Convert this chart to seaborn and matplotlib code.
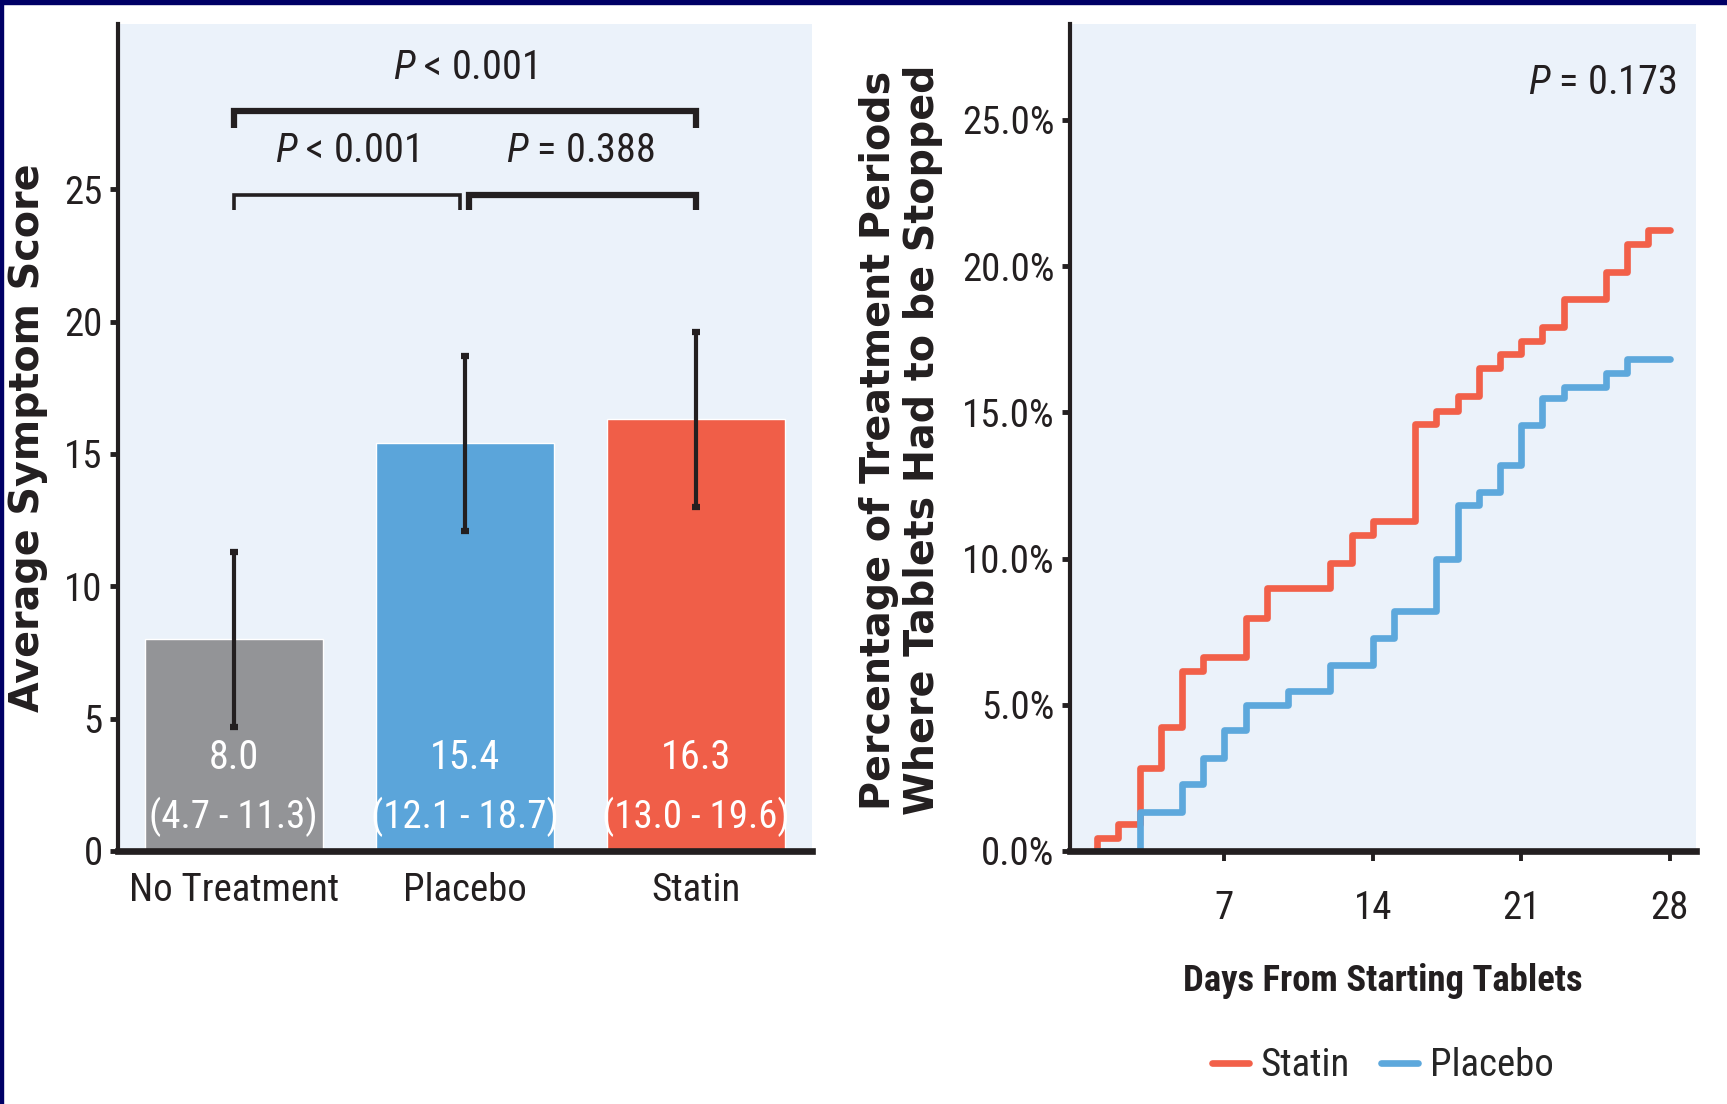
import numpy as np
import pandas as pd
import matplotlib
matplotlib.use("Agg")
import matplotlib.pyplot as plt
import seaborn as sns
from matplotlib import font_manager as fm
from matplotlib.patches import Rectangle
from matplotlib.ticker import FuncFormatter, FixedLocator

# ---------------- data ----------------
groups = ["No Treatment", "Placebo", "Statin"]
mean_scores = [8.0, 15.4, 16.3]
ci_low = [4.7, 12.1, 13.0]
ci_high = [11.3, 18.7, 19.6]
bar_value_labels = ["8.0", "15.4", "16.3"]
bar_ci_labels = ["(4.7 - 11.3)", "(12.1 - 18.7)", "(13.0 - 19.6)"]
left_yticks = [0, 5, 10, 15, 20, 25]

days = list(range(1, 29))
statin_pct = [0.46, 0.93, 2.82, 4.23, 6.14, 6.62, 6.62, 7.96, 8.98, 8.98, 8.98, 9.86, 10.8, 11.29,
              11.29, 14.6, 15.06, 15.55, 16.5, 16.98, 17.45, 17.91, 18.87, 18.87, 19.8, 20.74, 21.23, 21.23]
placebo_pct = [0, 0, 1.33, 1.33, 2.30, 3.18, 4.12, 5.0, 5.0, 5.46, 5.46, 6.35, 6.35, 7.28,
               8.19, 8.19, 10.0, 11.82, 12.28, 13.19, 14.55, 15.48, 15.88, 15.88, 16.35, 16.82, 16.82, 16.82]
right_xticks = [7, 14, 21, 28]
right_yticks = [0, 5, 10, 15, 20, 25]

# ---------------- style ----------------
sns.set_theme(style="white")


def _w(f):
    w = f.weight
    if isinstance(w, str):
        w = fm.weight_dict.get(w, 400)
    return w


entries = fm.fontManager.ttflist
NARROW = "DejaVu Sans"
for cand in ["Liberation Sans Narrow", "Roboto Condensed", "Noto Sans Condensed",
             "DejaVu Sans Condensed", "Open Sans Condensed"]:
    fam = [f for f in entries if f.name == cand]
    if any(350 <= _w(f) <= 450 and f.style == "normal" for f in fam):
        NARROW = cand
        break
plt.rcParams["font.family"] = [NARROW, "DejaVu Sans"]
plt.rcParams["mathtext.fontset"] = "custom"
plt.rcParams["mathtext.it"] = f"{NARROW}:italic"
plt.rcParams["mathtext.rm"] = NARROW

DARK = "#231F20"
BG = "#EBF2FA"
bar_colors = ["#939497", "#5BA5DA", "#F05E48"]
line_colors = {"Statin": "#F26049", "Placebo": "#5DA8DC"}
TICK_FS = 28

fig = plt.figure(figsize=(17.27, 11.04), dpi=100)
fig.patch.set_facecolor("white")
ax1 = fig.add_axes([0.0683, 0.2292, 0.4017, 0.7491])
ax2 = fig.add_axes([0.6193, 0.2292, 0.3628, 0.7491])

# ---------------- left: bar chart ----------------
df_bar = pd.DataFrame({"group": groups, "score": mean_scores})
sns.barplot(data=df_bar, x="group", y="score", hue="group", palette=bar_colors,
            width=0.77, saturation=1, legend=False, errorbar=None, ax=ax1)
means = np.array(mean_scores)
yerr = [means - np.array(ci_low), np.array(ci_high) - means]
ax1.errorbar(x=np.arange(len(groups)), y=means, yerr=yerr, fmt="none", ecolor=DARK,
             elinewidth=3, capsize=3, capthick=4.5, zorder=5)

for i in range(len(groups)):
    ax1.text(i, 3.54, bar_value_labels[i], color="white", ha="center", va="center",
             fontsize=TICK_FS + 1)
    ax1.text(i, 1.29, bar_ci_labels[i], color="white", ha="center", va="center",
             fontsize=TICK_FS)


def bracket(x0, x1, yh, yd, lw):
    ax1.plot([x0, x0, x1, x1], [yd, yh, yh, yd], color=DARK, lw=lw,
             solid_capstyle="butt", solid_joinstyle="miter", clip_on=False, zorder=6)


bracket(0, 2, 27.95, 27.3, 4.5)
bracket(0, 0.98, 24.79, 24.2, 2.6)
bracket(1.02, 2, 24.79, 24.2, 4.5)
ax1.text(1, 29.6, "$P$ < 0.001", ha="center", va="center", fontsize=TICK_FS + 1, color=DARK)
ax1.text(0.49, 26.46, "$P$ < 0.001", ha="center", va="center", fontsize=TICK_FS + 1, color=DARK)
ax1.text(1.5, 26.46, "$P$ = 0.388", ha="center", va="center", fontsize=TICK_FS + 1, color=DARK)

ax1.set_xlim(-0.5, 2.5)
ax1.set_ylim(0, 31.24)
ax1.yaxis.set_major_locator(FixedLocator(left_yticks))
ax1.set_facecolor(BG)
ax1.set_xlabel("")
ax1.set_ylabel("Average Symptom Score", fontsize=28.5, fontweight="bold",
               family="DejaVu Sans", color=DARK)
ax1.yaxis.set_label_coords(-0.130, 0.5)
ax1.yaxis.label.set_verticalalignment("center")

# ---------------- right: step lines ----------------
rows = []
for arm, vals in [("Statin", statin_pct), ("Placebo", placebo_pct)]:
    rows.append({"day": days[0], "pct": 0.0, "arm": arm})
    for d, v in zip(days, vals):
        rows.append({"day": d, "pct": v, "arm": arm})
df_km = pd.DataFrame(rows)
sns.lineplot(data=df_km, x="day", y="pct", hue="arm", hue_order=["Statin", "Placebo"],
             palette=line_colors, estimator=None, sort=False, drawstyle="steps-post",
             lw=4.8, ax=ax2)
ax2.set_xlim(-0.3, 29.25)
ax2.set_ylim(0, 28.28)
ax2.xaxis.set_major_locator(FixedLocator(right_xticks))
ax2.yaxis.set_major_locator(FixedLocator(right_yticks))
ax2.yaxis.set_major_formatter(FuncFormatter(lambda v, p: f"{v:.1f}%"))
ax2.set_facecolor(BG)
ax2.text(0.851, 0.929, "$P$ = 0.173", transform=ax2.transAxes, ha="center", va="center",
         fontsize=TICK_FS + 1, color=DARK)
ax2.set_xlabel("Days From Starting Tablets", fontsize=26.5, fontweight="bold", color=DARK)
ax2.xaxis.set_label_coords(0.5, -0.135)
ax2.xaxis.label.set_verticalalignment("top")
ax2.set_ylabel("Percentage of Treatment Periods\nWhere Tablets Had to be Stopped",
               fontsize=28.5, fontweight="bold", family="DejaVu Sans", color=DARK, linespacing=1.12)
ax2.yaxis.set_label_coords(-0.269, 0.497)
ax2.yaxis.label.set_verticalalignment("center")

sns.move_legend(ax2, "center", bbox_to_anchor=(0.5, -0.26), ncol=2, frameon=False, title=None,
                fontsize=TICK_FS, handlelength=0.95, handletextpad=0.3, columnspacing=0.8)

# ---------------- axes styling ----------------
for ax in (ax1, ax2):
    ax.grid(False)
    for s in ("top", "right"):
        ax.spines[s].set_visible(False)
    ax.spines["left"].set_linewidth(3)
    ax.spines["left"].set_color(DARK)
    ax.spines["bottom"].set_linewidth(4.8)
    ax.spines["bottom"].set_color(DARK)
    ax.tick_params(axis="y", which="major", left=True, length=6, width=3.5, color=DARK,
                   labelsize=TICK_FS, labelcolor=DARK, pad=5)
ax1.tick_params(axis="x", length=0, pad=15, labelsize=TICK_FS, labelcolor=DARK)
ax2.tick_params(axis="x", bottom=True, length=7, width=2.8, color=DARK, pad=21,
                labelsize=TICK_FS, labelcolor=DARK)

# navy frame on top and left edges
fig.patches.append(Rectangle((0, 1 - 4 / 1104), 1, 4 / 1104, transform=fig.transFigure,
                             color="#000066", zorder=10))
fig.patches.append(Rectangle((0, 0), 3 / 1727, 1, transform=fig.transFigure,
                             color="#000066", zorder=10))

fig.savefig("out.png", dpi=100)
